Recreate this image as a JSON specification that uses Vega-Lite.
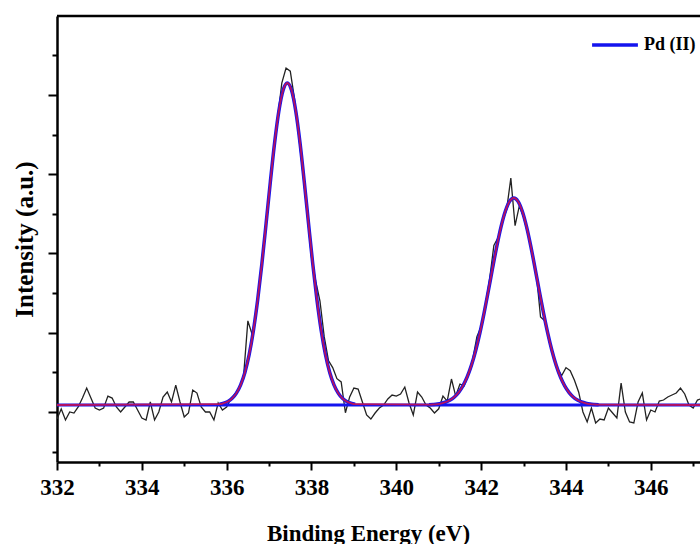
{
  "$schema": "https://vega.github.io/schema/vega-lite/v6.json",
  "width": 643,
  "height": 446,
  "autosize": "none",
  "padding": {"left": 57, "top": 16, "right": 0, "bottom": 82},
  "background": "white",
  "config": {"view": {"stroke": null}},
  "datasets": {
    "raw": [
      {"E":332.0,"I":912},{"E":332.1,"I":1038},{"E":332.2,"I":899},{"E":332.3,"I":1000},{"E":332.4,"I":987},
      {"E":332.5,"I":1063},{"E":332.6,"I":1176},{"E":332.7,"I":1302},{"E":332.8,"I":1176},{"E":332.9,"I":1050},
      {"E":333.0,"I":1025},{"E":333.1,"I":1050},{"E":333.2,"I":1201},{"E":333.3,"I":1176},{"E":333.4,"I":1063},
      {"E":333.5,"I":1000},{"E":333.6,"I":1063},{"E":333.7,"I":1126},{"E":333.8,"I":1126},{"E":333.9,"I":1025},
      {"E":334.0,"I":924},{"E":334.1,"I":899},{"E":334.2,"I":1126},{"E":334.3,"I":899},{"E":334.4,"I":1000},
      {"E":334.5,"I":1189},{"E":334.6,"I":1252},{"E":334.7,"I":1126},{"E":334.8,"I":1340},{"E":334.9,"I":1126},
      {"E":335.0,"I":937},{"E":335.1,"I":987},{"E":335.2,"I":1277},{"E":335.3,"I":1239},{"E":335.4,"I":1063},
      {"E":335.5,"I":1000},{"E":335.6,"I":1000},{"E":335.7,"I":899},{"E":335.8,"I":1113},{"E":335.9,"I":1025},
      {"E":336.0,"I":1063},{"E":336.1,"I":1170},{"E":336.2,"I":1230},{"E":336.3,"I":1300},{"E":336.4,"I":1460},
      {"E":336.5,"I":2150},{"E":336.6,"I":1980},{"E":336.7,"I":2260},{"E":336.8,"I":2740},{"E":336.9,"I":3200},
      {"E":337.0,"I":3780},{"E":337.1,"I":4230},{"E":337.2,"I":4700},{"E":337.3,"I":5150},{"E":337.4,"I":5340},
      {"E":337.5,"I":5300},{"E":337.6,"I":4950},{"E":337.7,"I":4480},{"E":337.8,"I":4000},{"E":337.9,"I":3500},
      {"E":338.0,"I":2950},{"E":338.1,"I":2650},{"E":338.2,"I":2400},{"E":338.3,"I":1950},{"E":338.4,"I":1650},
      {"E":338.5,"I":1560},{"E":338.6,"I":1420},{"E":338.7,"I":1380},{"E":338.8,"I":990},{"E":338.9,"I":1190},
      {"E":339.0,"I":1302},{"E":339.1,"I":1290},{"E":339.2,"I":1126},{"E":339.3,"I":962},{"E":339.4,"I":911},
      {"E":339.5,"I":987},{"E":339.6,"I":1050},{"E":339.7,"I":1088},{"E":339.8,"I":1164},{"E":339.9,"I":1214},
      {"E":340.0,"I":1201},{"E":340.1,"I":1227},{"E":340.2,"I":1315},{"E":340.3,"I":1113},{"E":340.4,"I":962},
      {"E":340.5,"I":1252},{"E":340.6,"I":1189},{"E":340.7,"I":1088},{"E":340.8,"I":1050},{"E":340.9,"I":987},
      {"E":341.0,"I":1040},{"E":341.1,"I":1201},{"E":341.2,"I":1138},{"E":341.3,"I":1416},{"E":341.4,"I":1201},
      {"E":341.5,"I":1353},{"E":341.6,"I":1330},{"E":341.7,"I":1470},{"E":341.8,"I":1660},{"E":341.9,"I":1950},
      {"E":342.0,"I":2080},{"E":342.1,"I":2340},{"E":342.2,"I":2680},{"E":342.3,"I":3100},{"E":342.4,"I":3200},
      {"E":342.5,"I":3400},{"E":342.6,"I":3550},{"E":342.7,"I":3950},{"E":342.8,"I":3350},{"E":342.9,"I":3600},
      {"E":343.0,"I":3460},{"E":343.1,"I":3250},{"E":343.2,"I":3000},{"E":343.3,"I":2750},{"E":343.4,"I":2200},
      {"E":343.5,"I":2150},{"E":343.6,"I":1900},{"E":343.7,"I":1700},{"E":343.8,"I":1550},{"E":343.9,"I":1460},
      {"E":344.0,"I":1560},{"E":344.1,"I":1520},{"E":344.2,"I":1400},{"E":344.3,"I":1250},{"E":344.4,"I":1000},
      {"E":344.5,"I":874},{"E":344.6,"I":1050},{"E":344.7,"I":861},{"E":344.8,"I":911},{"E":344.9,"I":899},
      {"E":345.0,"I":1050},{"E":345.1,"I":987},{"E":345.2,"I":924},{"E":345.3,"I":1365},{"E":345.4,"I":1000},
      {"E":345.5,"I":874},{"E":345.6,"I":861},{"E":345.7,"I":1126},{"E":345.8,"I":1239},{"E":345.9,"I":899},
      {"E":346.0,"I":1025},{"E":346.1,"I":1000},{"E":346.2,"I":1138},{"E":346.3,"I":1151},{"E":346.4,"I":1189},
      {"E":346.5,"I":1214},{"E":346.6,"I":1239},{"E":346.7,"I":1302},{"E":346.8,"I":1227},{"E":346.9,"I":1088},
      {"E":347.0,"I":1050},{"E":347.1,"I":1151},{"E":347.2,"I":1170}
    ],
    "comp": [
      {"E":335.83,"I":1099,"peak":"3d5/2","series":"Pd (II)"},{"E":335.93,"I":1111,"peak":"3d5/2","series":"Pd (II)"},
      {"E":336.03,"I":1133,"peak":"3d5/2","series":"Pd (II)"},{"E":336.13,"I":1172,"peak":"3d5/2","series":"Pd (II)"},
      {"E":336.23,"I":1238,"peak":"3d5/2","series":"Pd (II)"},{"E":336.33,"I":1342,"peak":"3d5/2","series":"Pd (II)"},
      {"E":336.43,"I":1498,"peak":"3d5/2","series":"Pd (II)"},{"E":336.53,"I":1722,"peak":"3d5/2","series":"Pd (II)"},
      {"E":336.63,"I":2025,"peak":"3d5/2","series":"Pd (II)"},{"E":336.73,"I":2409,"peak":"3d5/2","series":"Pd (II)"},
      {"E":336.83,"I":2868,"peak":"3d5/2","series":"Pd (II)"},{"E":336.93,"I":3379,"peak":"3d5/2","series":"Pd (II)"},
      {"E":337.03,"I":3904,"peak":"3d5/2","series":"Pd (II)"},{"E":337.13,"I":4394,"peak":"3d5/2","series":"Pd (II)"},
      {"E":337.23,"I":4795,"peak":"3d5/2","series":"Pd (II)"},{"E":337.33,"I":5059,"peak":"3d5/2","series":"Pd (II)"},
      {"E":337.43,"I":5151,"peak":"3d5/2","series":"Pd (II)"},{"E":337.53,"I":5059,"peak":"3d5/2","series":"Pd (II)"},
      {"E":337.63,"I":4795,"peak":"3d5/2","series":"Pd (II)"},{"E":337.73,"I":4394,"peak":"3d5/2","series":"Pd (II)"},
      {"E":337.83,"I":3904,"peak":"3d5/2","series":"Pd (II)"},{"E":337.93,"I":3379,"peak":"3d5/2","series":"Pd (II)"},
      {"E":338.03,"I":2868,"peak":"3d5/2","series":"Pd (II)"},{"E":338.13,"I":2409,"peak":"3d5/2","series":"Pd (II)"},
      {"E":338.23,"I":2025,"peak":"3d5/2","series":"Pd (II)"},{"E":338.33,"I":1722,"peak":"3d5/2","series":"Pd (II)"},
      {"E":338.43,"I":1498,"peak":"3d5/2","series":"Pd (II)"},{"E":338.53,"I":1342,"peak":"3d5/2","series":"Pd (II)"},
      {"E":338.63,"I":1238,"peak":"3d5/2","series":"Pd (II)"},{"E":338.73,"I":1172,"peak":"3d5/2","series":"Pd (II)"},
      {"E":338.83,"I":1133,"peak":"3d5/2","series":"Pd (II)"},{"E":338.93,"I":1111,"peak":"3d5/2","series":"Pd (II)"},
      {"E":339.03,"I":1099,"peak":"3d5/2","series":"Pd (II)"},
      {"E":340.77,"I":1092,"peak":"3d3/2","series":"Pd (II)"},{"E":340.87,"I":1095,"peak":"3d3/2","series":"Pd (II)"},
      {"E":340.97,"I":1100,"peak":"3d3/2","series":"Pd (II)"},{"E":341.07,"I":1110,"peak":"3d3/2","series":"Pd (II)"},
      {"E":341.17,"I":1126,"peak":"3d3/2","series":"Pd (II)"},{"E":341.27,"I":1151,"peak":"3d3/2","series":"Pd (II)"},
      {"E":341.37,"I":1190,"peak":"3d3/2","series":"Pd (II)"},{"E":341.47,"I":1248,"peak":"3d3/2","series":"Pd (II)"},
      {"E":341.57,"I":1330,"peak":"3d3/2","series":"Pd (II)"},{"E":341.67,"I":1441,"peak":"3d3/2","series":"Pd (II)"},
      {"E":341.77,"I":1588,"peak":"3d3/2","series":"Pd (II)"},{"E":341.87,"I":1773,"peak":"3d3/2","series":"Pd (II)"},
      {"E":341.97,"I":1995,"peak":"3d3/2","series":"Pd (II)"},{"E":342.07,"I":2250,"peak":"3d3/2","series":"Pd (II)"},
      {"E":342.17,"I":2529,"peak":"3d3/2","series":"Pd (II)"},{"E":342.27,"I":2816,"peak":"3d3/2","series":"Pd (II)"},
      {"E":342.37,"I":3093,"peak":"3d3/2","series":"Pd (II)"},{"E":342.47,"I":3339,"peak":"3d3/2","series":"Pd (II)"},
      {"E":342.57,"I":3533,"peak":"3d3/2","series":"Pd (II)"},{"E":342.67,"I":3657,"peak":"3d3/2","series":"Pd (II)"},
      {"E":342.77,"I":3700,"peak":"3d3/2","series":"Pd (II)"},{"E":342.87,"I":3657,"peak":"3d3/2","series":"Pd (II)"},
      {"E":342.97,"I":3533,"peak":"3d3/2","series":"Pd (II)"},{"E":343.07,"I":3339,"peak":"3d3/2","series":"Pd (II)"},
      {"E":343.17,"I":3093,"peak":"3d3/2","series":"Pd (II)"},{"E":343.27,"I":2816,"peak":"3d3/2","series":"Pd (II)"},
      {"E":343.37,"I":2529,"peak":"3d3/2","series":"Pd (II)"},{"E":343.47,"I":2250,"peak":"3d3/2","series":"Pd (II)"},
      {"E":343.57,"I":1995,"peak":"3d3/2","series":"Pd (II)"},{"E":343.67,"I":1773,"peak":"3d3/2","series":"Pd (II)"},
      {"E":343.77,"I":1588,"peak":"3d3/2","series":"Pd (II)"},{"E":343.87,"I":1441,"peak":"3d3/2","series":"Pd (II)"},
      {"E":343.97,"I":1330,"peak":"3d3/2","series":"Pd (II)"},{"E":344.07,"I":1248,"peak":"3d3/2","series":"Pd (II)"},
      {"E":344.17,"I":1190,"peak":"3d3/2","series":"Pd (II)"},{"E":344.27,"I":1151,"peak":"3d3/2","series":"Pd (II)"},
      {"E":344.37,"I":1126,"peak":"3d3/2","series":"Pd (II)"},{"E":344.47,"I":1110,"peak":"3d3/2","series":"Pd (II)"},
      {"E":344.57,"I":1100,"peak":"3d3/2","series":"Pd (II)"},{"E":344.67,"I":1095,"peak":"3d3/2","series":"Pd (II)"},
      {"E":344.77,"I":1092,"peak":"3d3/2","series":"Pd (II)"}
    ],
    "env": [
      {"E":332.0,"I":1088},
      {"E":335.83,"I":1099},{"E":335.93,"I":1111},{"E":336.03,"I":1133},{"E":336.13,"I":1172},{"E":336.23,"I":1238},
      {"E":336.33,"I":1342},{"E":336.43,"I":1498},{"E":336.53,"I":1722},{"E":336.63,"I":2025},{"E":336.73,"I":2409},
      {"E":336.83,"I":2868},{"E":336.93,"I":3379},{"E":337.03,"I":3904},{"E":337.13,"I":4394},{"E":337.23,"I":4795},
      {"E":337.33,"I":5059},{"E":337.43,"I":5151},{"E":337.53,"I":5059},{"E":337.63,"I":4795},{"E":337.73,"I":4394},
      {"E":337.83,"I":3904},{"E":337.93,"I":3379},{"E":338.03,"I":2868},{"E":338.13,"I":2409},{"E":338.23,"I":2025},
      {"E":338.33,"I":1722},{"E":338.43,"I":1498},{"E":338.53,"I":1342},{"E":338.63,"I":1238},{"E":338.73,"I":1172},
      {"E":338.83,"I":1133},{"E":338.93,"I":1111},{"E":339.03,"I":1099},
      {"E":340.77,"I":1092},{"E":340.87,"I":1095},{"E":340.97,"I":1100},{"E":341.07,"I":1110},{"E":341.17,"I":1126},
      {"E":341.27,"I":1151},{"E":341.37,"I":1190},{"E":341.47,"I":1248},{"E":341.57,"I":1330},{"E":341.67,"I":1441},
      {"E":341.77,"I":1588},{"E":341.87,"I":1773},{"E":341.97,"I":1995},{"E":342.07,"I":2250},{"E":342.17,"I":2529},
      {"E":342.27,"I":2816},{"E":342.37,"I":3093},{"E":342.47,"I":3339},{"E":342.57,"I":3533},{"E":342.67,"I":3657},
      {"E":342.77,"I":3700},{"E":342.87,"I":3657},{"E":342.97,"I":3533},{"E":343.07,"I":3339},{"E":343.17,"I":3093},
      {"E":343.27,"I":2816},{"E":343.37,"I":2529},{"E":343.47,"I":2250},{"E":343.57,"I":1995},{"E":343.67,"I":1773},
      {"E":343.77,"I":1588},{"E":343.87,"I":1441},{"E":343.97,"I":1330},{"E":344.07,"I":1248},{"E":344.17,"I":1190},
      {"E":344.27,"I":1151},{"E":344.37,"I":1126},{"E":344.47,"I":1110},{"E":344.57,"I":1100},{"E":344.67,"I":1095},
      {"E":344.77,"I":1092},
      {"E":347.2,"I":1088}
    ],
    "base": [{"E":332.0,"I":1088},{"E":347.2,"I":1088}],
    "frame": [{"E":332.0,"I":5996},{"E":347.2,"I":5996}]
  },
  "encoding": {
    "x": {
      "field": "E", "type": "quantitative",
      "scale": {"domain": [332, 347.16], "nice": false, "zero": false},
      "axis": {
        "title": "Binding Energy (eV)",
        "values": [332,333,334,335,336,337,338,339,340,341,342,343,344,345,346,347],
        "labelExpr": "datum.value % 2 === 0 ? datum.label : ''",
        "format": "d",
        "grid": false,
        "domainColor": "black", "domainWidth": 2.5,
        "tickColor": "black", "tickWidth": 2,
        "tickSize": {"condition": {"test": "datum.value % 2 === 0", "value": 8}, "value": 4},
        "labelFont": "Liberation Serif, DejaVu Serif, serif", "labelFontWeight": "bold", "labelFontSize": 23, "labelColor": "black",
        "labelPadding": 6, "labelFlush": false, "labelOverlap": false,
        "titleFont": "Liberation Serif, DejaVu Serif, serif", "titleFontWeight": "bold", "titleFontSize": 23, "titleColor": "black",
        "titlePadding": 23, "titleX": 311, "titleAnchor": "middle"
      }
    },
    "y": {
      "field": "I", "type": "quantitative",
      "scale": {"domain": [369, 5996], "nice": false, "zero": false},
      "axis": {
        "title": "Intensity (a.u.)",
        "values": [500,1000,1500,2000,2500,3000,3500,4000,4500,5000,5500],
        "labels": false,
        "grid": false,
        "domainColor": "black", "domainWidth": 2.5,
        "tickColor": "black", "tickWidth": 2,
        "tickSize": {"condition": {"test": "datum.value % 1000 === 0", "value": 9}, "value": 5},
        "titleFont": "Liberation Serif, DejaVu Serif, serif", "titleFontWeight": "bold", "titleFontSize": 25, "titleColor": "black",
        "titlePadding": 10
      }
    }
  },
  "layer": [
    {
      "data": {"name": "raw"},
      "mark": {"type": "line", "color": "#222222", "strokeWidth": 1.3, "clip": true}
    },
    {
      "data": {"name": "comp"},
      "mark": {"type": "line", "strokeWidth": 3.5, "interpolate": "monotone", "clip": true},
      "encoding": {
        "detail": {"field": "peak"},
        "color": {
          "field": "series", "type": "nominal",
          "scale": {"domain": ["Pd (II)"], "range": ["#1414ee"]},
          "legend": {
            "orient": "none", "legendX": 533, "legendY": 4,
            "title": null, "symbolType": "stroke", "symbolSize": 2100, "symbolStrokeWidth": 3.5,
            "labelFont": "Liberation Serif, DejaVu Serif, serif", "labelFontWeight": "bold", "labelFontSize": 18, "labelColor": "black",
            "labelOffset": 4, "padding": 0
          }
        }
      }
    },
    {
      "data": {"name": "base"},
      "mark": {"type": "line", "color": "#1414ee", "strokeWidth": 3, "clip": true}
    },
    {
      "data": {"name": "env"},
      "mark": {"type": "line", "color": "#d01048", "strokeWidth": 1.8, "interpolate": "monotone", "clip": true, "opacity": 0.85}
    },
    {
      "data": {"name": "frame"},
      "mark": {"type": "line", "color": "black", "strokeWidth": 2.5, "clip": false}
    }
  ]
}
